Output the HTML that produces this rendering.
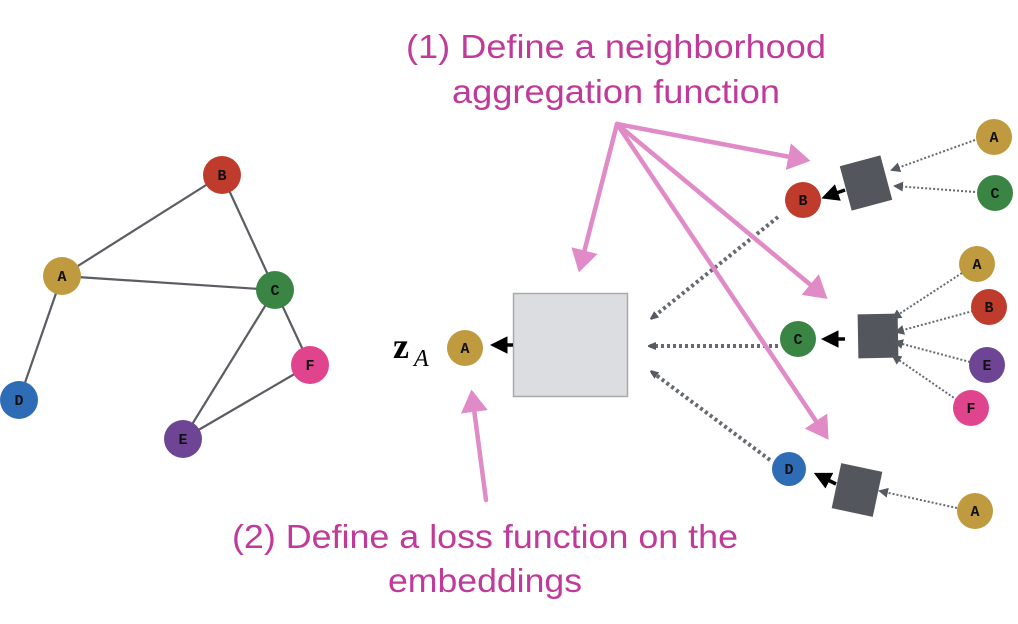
<!DOCTYPE html>
<html><head><meta charset="utf-8"><style>
html,body{margin:0;padding:0;background:#fff;}
svg{display:block;}
.n text{font-family:"Liberation Mono",monospace;font-weight:bold;font-size:15px;text-anchor:middle;fill:#111;}
.t{font-family:"Liberation Sans",sans-serif;font-size:33px;fill:#c03a9a;}
</style></head><body>
<svg width="1018" height="624" viewBox="0 0 1018 624" xmlns="http://www.w3.org/2000/svg">
<defs>
<marker id="pk" markerWidth="6" markerHeight="6" refX="4" refY="3" orient="auto" markerUnits="strokeWidth"><path d="M0,0 L5,3 L0,6 z" fill="#e08ac8"/></marker>
<marker id="gy" markerWidth="8" markerHeight="8" refX="6" refY="4" orient="auto" markerUnits="userSpaceOnUse"><path d="M0,0 L10,4 L0,8 z" fill="#555a61"/></marker>
<marker id="gy2" markerWidth="5" markerHeight="5" refX="4" refY="2.5" orient="auto" markerUnits="strokeWidth"><path d="M0,0 L5,2.5 L0,5 z" fill="#555a61"/></marker>
<marker id="bk" markerWidth="5" markerHeight="5" refX="3" refY="2.5" orient="auto" markerUnits="strokeWidth"><path d="M0,0 L5,2.5 L0,5 z" fill="#000"/></marker>
</defs>
<!-- left graph -->
<g stroke="#5a5d62" stroke-width="2.2">
<line x1="62" y1="276" x2="222" y2="175"/><line x1="62" y1="276" x2="275" y2="290"/>
<line x1="222" y1="175" x2="275" y2="290"/><line x1="62" y1="276" x2="19" y2="400"/>
<line x1="275" y1="290" x2="183" y2="439"/><line x1="275" y1="290" x2="310" y2="365"/>
<line x1="310" y1="365" x2="183" y2="439"/>
</g>
<g class="n">
<circle cx="222" cy="175" r="19" fill="#bf3b2c"/><text x="222" y="180">B</text>
<circle cx="62" cy="276" r="19" fill="#c09a3f"/><text x="62" y="281">A</text>
<circle cx="275" cy="290" r="19" fill="#3a8544"/><text x="275" y="295">C</text>
<circle cx="310" cy="365" r="19" fill="#e0448d"/><text x="310" y="370">F</text>
<circle cx="19" cy="400" r="19" fill="#2f6cb6"/><text x="19" y="405">D</text>
<circle cx="183" cy="439" r="19" fill="#6e4595"/><text x="183" y="444">E</text>
</g>
<!-- middle -->
<text x="393" y="358" font-family="Liberation Serif,serif" font-weight="bold" font-size="36">z</text>
<text x="414" y="366" font-family="Liberation Serif,serif" font-style="italic" font-size="24">A</text>
<g class="n"><circle cx="465" cy="348" r="18" fill="#c09a3f"/><text x="465" y="353">A</text></g>
<rect x="513.5" y="293.5" width="114" height="103" fill="#dcdde0" stroke="#aaaaad" stroke-width="1.5"/>
<line x1="513" y1="345" x2="497" y2="345" stroke="#000" stroke-width="3.5" marker-end="url(#bk)"/>
<!-- thick dotted -->
<g stroke="#666a70" stroke-width="4" stroke-dasharray="3,3" fill="none">
<line x1="778" y1="217" x2="652" y2="318" marker-end="url(#gy)"/>
<line x1="778" y1="346" x2="650" y2="346" marker-end="url(#gy)"/>
<line x1="770" y1="460" x2="652" y2="372" marker-end="url(#gy)"/>
</g>
<!-- right side boxes -->
<g fill="#53565d">
<rect x="-21" y="-23" width="42" height="46" transform="translate(866,183) rotate(-15)"/>
<rect x="-20" y="-22" width="40" height="44" transform="translate(878,336) rotate(-1)"/>
<rect x="-21" y="-23" width="42" height="46" transform="translate(857,490) rotate(12)"/>
</g>
<g stroke="#000" stroke-width="3.5">
<line x1="845" y1="190" x2="828" y2="196" marker-end="url(#bk)"/>
<line x1="845" y1="339" x2="828" y2="339" marker-end="url(#bk)"/>
<line x1="836" y1="484" x2="820" y2="476" marker-end="url(#bk)"/>
</g>
<g stroke="#666a70" stroke-width="2" stroke-dasharray="2,2" fill="none">
<line x1="975" y1="140" x2="892" y2="170" marker-end="url(#gy2)"/>
<line x1="975" y1="192" x2="895" y2="186" marker-end="url(#gy2)"/>
<line x1="962" y1="273" x2="893" y2="318" marker-end="url(#gy2)"/>
<line x1="973" y1="311" x2="896" y2="332" marker-end="url(#gy2)"/>
<line x1="970" y1="362" x2="895" y2="342" marker-end="url(#gy2)"/>
<line x1="957" y1="400" x2="893" y2="356" marker-end="url(#gy2)"/>
<line x1="957" y1="508" x2="880" y2="491" marker-end="url(#gy2)"/>
</g>
<g class="n">
<circle cx="803" cy="200" r="18" fill="#bf3b2c"/><text x="803" y="205">B</text>
<circle cx="798" cy="339" r="18" fill="#3a8544"/><text x="798" y="344">C</text>
<circle cx="789" cy="469" r="17" fill="#2f6cb6"/><text x="789" y="474">D</text>
<circle cx="994" cy="137" r="18" fill="#c09a3f"/><text x="994" y="142">A</text>
<circle cx="995" cy="193" r="18" fill="#3a8544"/><text x="995" y="198">C</text>
<circle cx="977" cy="264" r="18" fill="#c09a3f"/><text x="977" y="269">A</text>
<circle cx="989" cy="307" r="18" fill="#bf3b2c"/><text x="989" y="312">B</text>
<circle cx="987" cy="365" r="18" fill="#6e4595"/><text x="987" y="370">E</text>
<circle cx="971" cy="408" r="18" fill="#e0448d"/><text x="971" y="413">F</text>
<circle cx="975" cy="511" r="18" fill="#c09a3f"/><text x="975" y="516">A</text>
</g>
<!-- pink arrows -->
<g stroke="#e08ac8" stroke-width="4.5" fill="none" stroke-linecap="round">
<line x1="617" y1="124" x2="806" y2="160" marker-end="url(#pk)"/>
<line x1="617" y1="124" x2="580" y2="268" marker-end="url(#pk)"/>
<line x1="617" y1="124" x2="824" y2="296" marker-end="url(#pk)"/>
<line x1="617" y1="124" x2="826" y2="436" marker-end="url(#pk)"/>
<line x1="486" y1="500" x2="472" y2="394" marker-end="url(#pk)"/>
</g>
<!-- text -->
<text class="t" x="406" y="58" textLength="420" lengthAdjust="spacingAndGlyphs">(1) Define a neighborhood</text>
<text class="t" x="452" y="103" textLength="328" lengthAdjust="spacingAndGlyphs">aggregation function</text>
<text class="t" x="232" y="548" textLength="506" lengthAdjust="spacingAndGlyphs">(2) Define a loss function on the</text>
<text class="t" x="388" y="592" textLength="194" lengthAdjust="spacingAndGlyphs">embeddings</text>
</svg>
</body></html>
